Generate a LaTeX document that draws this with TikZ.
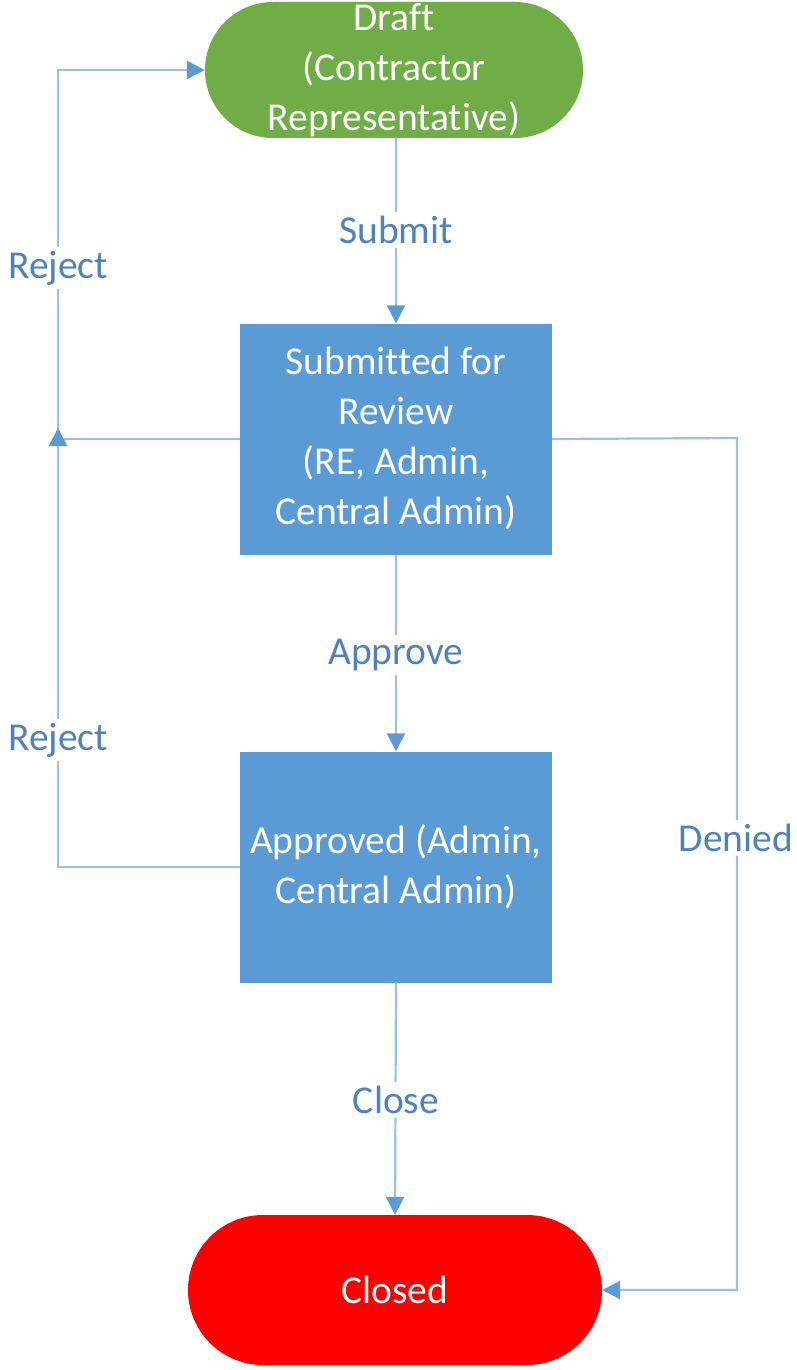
\documentclass[tikz,border=0pt]{standalone}
\usepackage{fontspec}
\setmainfont[Ligatures=NoCommon]{Carlito}
\usetikzlibrary{arrows.meta}
\definecolor{draftgreen}{HTML}{70AD47}
\definecolor{stepblue}{HTML}{5B9BD5}
\definecolor{closedred}{HTML}{FF0000}
\definecolor{linkblue}{HTML}{9DBFE3}
\definecolor{tipblue}{HTML}{5B9BD5}
\definecolor{labelblue}{HTML}{4F81BD}
\begin{document}
\begin{tikzpicture}[x=1pt,y=-1pt,
  every node/.style={font=\fontsize{39.5}{50}\selectfont},
  stadium/.style={rectangle, draw=none, text=white, align=center, inner sep=0pt},
  statebox/.style={rectangle, fill=stepblue, draw=none, text=white, align=center,
    minimum width=312pt, minimum height=231pt, inner sep=0pt},
  flow/.style={draw=linkblue, line width=2.2pt,
    -{Triangle[length=18pt,width=18pt,color=tipblue]}},
  lbl/.style={fill=white, text=labelblue, inner sep=4pt}]
\useasboundingbox (0,0) rectangle (796,1370);
\fill[white] (0,0) rectangle (796,1370);

% states
\node[stadium, fill=draftgreen, rounded corners=68pt, minimum width=378pt, minimum height=136pt]
  (draft) at (394,70) {Draft\\(Contractor\\Representative)};
\node[statebox] (submitted) at (396,439) {Submitted for\\Review\\(RE, Admin,\\Central Admin)};
\node[statebox] (approved) at (396,867) {Approved (Admin,\\Central Admin)};
\node[stadium, fill=closedred, rounded corners=75pt, minimum width=414pt, minimum height=150pt]
  (closed) at (395,1290) {Closed};

% bend points of the side connectors
\coordinate (lc) at (58,70);
\coordinate (rj) at (58,428);
\coordinate (dn) at (737,438);

% transitions
\draw[flow] (draft.south -| submitted.north) -- (submitted.north);
\draw[flow] (submitted.south) -- (approved.north);
\draw[flow] (approved.south) -- (closed.north);
\draw[flow] (submitted.west) -| (lc) -- (draft.west);
\draw[flow] (approved.west) -| (rj);
\draw[flow] (submitted.east) -- (dn) |- (closed.east);

% transition labels
\node[lbl] (lsubmit) at (396,230) {Submit};
\node[lbl] (lapprove) at (396,655) {Approve};
\node[lbl] (lclose) at (396,1100) {Close};
\node[lbl] (lreject1) at (58,268) {Reject};
\node[lbl] (lreject2) at (58,740) {Reject};
\node[lbl] (ldenied) at (736,838) {Denied};
\end{tikzpicture}
\end{document}
